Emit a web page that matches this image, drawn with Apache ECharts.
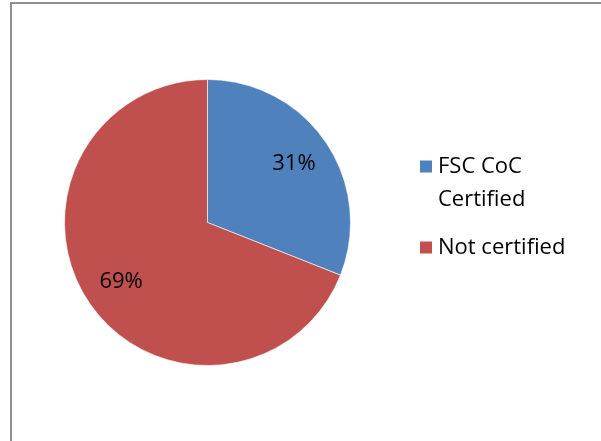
<!DOCTYPE html>
<html>
<head>
<meta charset="utf-8">
<script src="https://cdn.jsdelivr.net/npm/echarts@6/dist/echarts.min.js"></script>
<style>
  html, body { margin: 0; padding: 0; background: #fff; }
  #main { width: 601px; height: 441px; }
</style>
</head>
<body>
<div id="main"></div>
<script>
var categories = ['FSC CoC\nCertified', 'Not certified']
var values = [31, 69]
var colors = ['#4F81BD', '#C0504D']

var pieData = categories.map(function (name, i) {
  return { name: name, value: values[i], itemStyle: { color: colors[i] } }
})

var myChart = echarts.init(document.getElementById('main'))
myChart.setOption({
  backgroundColor: '#fff',
  animation: false,
  textStyle: { fontFamily: 'Open Sans' },
  graphic: [{
    type: 'rect',
    shape: { x: 11, y: 3, width: 640, height: 480 },
    style: { fill: 'none', stroke: '#8f8f8f', lineWidth: 2 },
    silent: true
  }],
  legend: {
    orient: 'vertical',
    left: 418,
    top: 117,
    padding: 0,
    itemWidth: 14,
    itemHeight: 14,
    itemGap: 15,
    icon: 'rect',
    // blank first line keeps the icon level with "FSC CoC"
    formatter: function (name) {
      return name.indexOf('\n') >= 0 ? ' \n' + name : name
    },
    textStyle: { fontFamily: 'Open Sans', fontSize: 22, color: '#000', lineHeight: 33 },
    data: categories
  },
  series: [
    {
      type: 'pie',
      center: [207.5, 222.5],
      radius: [0, 143],
      startAngle: 90,
      clockwise: true,
      label: { show: false },
      labelLine: { show: false },
      itemStyle: { borderColor: '#fff', borderWidth: 0.6 },
      data: pieData
    },
    {
      type: 'pie',
      center: [207.5, 222.5],
      radius: [60, 143],
      startAngle: 90,
      clockwise: true,
      silent: true,
      legendHoverLink: false,
      itemStyle: { color: 'rgba(0,0,0,0)' },
      label: {
        show: true,
        position: 'inside',
        formatter: '{d}%',
        fontFamily: 'Open Sans',
        fontSize: 22,
        color: '#000'
      },
      labelLine: { show: false },
      data: categories.map(function (name, i) { return { name: name, value: values[i] } })
    }
  ]
})
window.onresize = myChart.resize
</script>
</body>
</html>
